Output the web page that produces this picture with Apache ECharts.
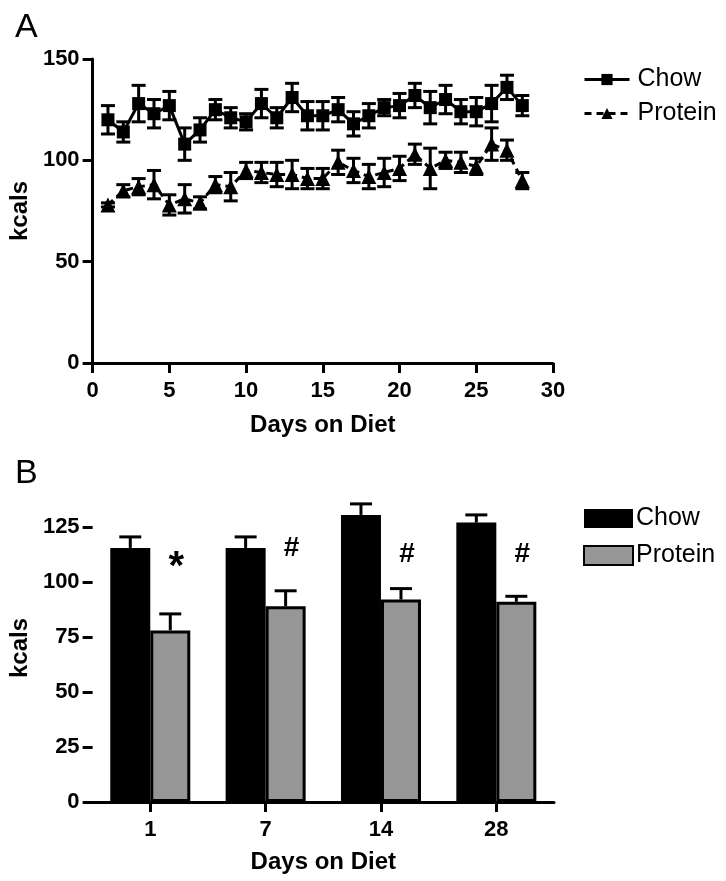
<!DOCTYPE html>
<html>
<head>
<meta charset="utf-8">
<script src="https://cdn.jsdelivr.net/npm/echarts@6/dist/echarts.min.js"></script>
<style>html,body{margin:0;padding:0;background:#fff}#c{width:726px;height:881px}</style>
</head>
<body>
<div id="c"></div>
<script>
// ---- Panel A data ----
const days = [1,2,3,4,5,6,7,8,9,10,11,12,13,14,15,16,17,18,19,20,21,22,23,24,25,26,27,28];
const chowMean = [120,114,128,123,127,108,115,125,121,119,128,121,131,122,122,125,118,122,126,127,132,126,130,124,124,128,136,127];
const chowErr  = [7,5,9,7,7,8,6,5,5,4,7,5,7,7,7,6,6,6,4,6,6,8,7,6,7,9,6,5];
const proteinMean = [78,85,87,88,78,81,79,88,87,95,94,93,93,91,91,99,95,92,94,96,103,96,100,99,97,108,105,90];
const proteinErr  = [1,3,4,7,5,7,3,4,7,4,5,6,7,5,5,6,6,6,7,6,5,10,4,5,4,8,5,4];
const xTicksA = [0,5,10,15,20,25,30];
const yTicksA = [0,50,100,150];

// ---- Panel B data ----
const barDays = ['1','7','14','28'];
const barChow = [115.5,115.5,130.5,127];
const barChowErr = [5,5,5,3.5];
const barProtein = [78,89,92,91];
const barProteinErr = [7.5,7,5,2.5];
const sigMarks = ['*','#','#','#'];
const sigLevel = [109,115.5,112.7,112.7];
const yTicksB = [0,25,50,75,100,125];

const FONT = 'Liberation Sans, Arial, Helvetica, sans-serif';
const chart = echarts.init(document.getElementById('c'), null, {renderer:'canvas'});

function errA(params, api){
  const x = api.value(0), lo = api.value(1), hi = api.value(2);
  const p1 = api.coord([x, hi]), p2 = api.coord([x, lo]);
  const w = 7;
  const st = {stroke:'#000', lineWidth:3};
  return {type:'group', children:[
    {type:'line', shape:{x1:p1[0],y1:p1[1],x2:p2[0],y2:p2[1]}, style:st},
    {type:'line', shape:{x1:p1[0]-w,y1:p1[1],x2:p1[0]+w,y2:p1[1]}, style:st},
    {type:'line', shape:{x1:p2[0]-w,y1:p2[1],x2:p2[0]+w,y2:p2[1]}, style:st}
  ]};
}
function errB(offset){
  return function(params, api){
    const i = api.value(0), base = api.value(1), top = api.value(2);
    const p1 = api.coord([i, top]), p2 = api.coord([i, base]);
    const x = p1[0] + offset, w = 11;
    const st = {stroke:'#000', lineWidth:3};
    return {type:'group', children:[
      {type:'line', shape:{x1:x,y1:p1[1],x2:x,y2:p2[1]}, style:st},
      {type:'line', shape:{x1:x-w,y1:p1[1],x2:x+w,y2:p1[1]}, style:st}
    ]};
  };
}
function sigText(params, api){
  const i = api.value(0), v = api.value(1);
  const p = api.coord([i, v]);
  const m = sigMarks[params.dataIndex];
  const big = m === '*';
  return {type:'text', x:p[0]+26, y:p[1] + (big ? 6 : 0),
    style:{text:m, font:'bold ' + (big ? 40 : 28) + 'px ' + FONT, fill:'#000', align:'center', verticalAlign:'middle'}};
}

const axisCommon = {
  axisLine:{lineStyle:{color:'#000', width:3}},
  axisTick:{show:true, inside:false, length:10, lineStyle:{color:'#000', width:3}},
  axisLabel:{color:'#000', fontFamily:FONT, fontWeight:'bold', fontSize:22},
  splitLine:{show:false},
  nameTextStyle:{color:'#000', fontFamily:FONT, fontWeight:'bold', fontSize:24}
};

const option = {
  animation:false,
  backgroundColor:'#fff',
  textStyle:{fontFamily:FONT},
  title:[
    {text:'A', left:10, top:6, textStyle:{fontFamily:FONT, fontWeight:'normal', fontSize:34, color:'#000'}},
    {text:'B', left:10, top:452, textStyle:{fontFamily:FONT, fontWeight:'normal', fontSize:34, color:'#000'}}
  ],
  legend:[
    {data:['Chow','Protein'], orient:'vertical', left:578, top:62, itemWidth:45, itemHeight:14, itemGap:9,
     lineStyle:{width:3}, 
     textStyle:{fontFamily:FONT, fontSize:25, color:'#000', lineHeight:25, padding:[0,0,0,3]}, selectedMode:false},
    {data:['Chow ','Protein '], orient:'vertical', left:578, top:501, itemWidth:49, itemHeight:19, itemGap:12, icon:'rect',
     textStyle:{fontFamily:FONT, fontSize:25, color:'#000', lineHeight:25, padding:[0,0,0,-2]}, selectedMode:false}
  ],
  grid:[
    {left:91, right:173, top:59, bottom:518, containLabel:false},
    {left:92, right:172, top:494, bottom:79, containLabel:false}
  ],
  xAxis:[
    Object.assign({}, axisCommon, {gridIndex:0, type:'value', min:xTicksA[0], max:xTicksA[xTicksA.length-1], interval:5,
      name:'Days on Diet', nameLocation:'middle', nameGap:50,
      axisLabel:Object.assign({}, axisCommon.axisLabel, {margin:17})}),
    Object.assign({}, axisCommon, {gridIndex:1, type:'category', data:barDays,
      axisTick:Object.assign({}, axisCommon.axisTick, {alignWithLabel:true}),
      name:'Days on Diet', nameLocation:'middle', nameGap:48,
      axisLabel:Object.assign({}, axisCommon.axisLabel, {margin:17})})
  ],
  yAxis:[
    Object.assign({}, axisCommon, {gridIndex:0, type:'value', min:yTicksA[0], max:yTicksA[yTicksA.length-1], interval:50,
      axisLabel:Object.assign({}, axisCommon.axisLabel, {margin:13}),
      name:'kcals', nameLocation:'middle', nameGap:58, nameRotate:90}),
    Object.assign({}, axisCommon, {gridIndex:1, type:'value', min:0, max:140,
      axisLabel:Object.assign({}, axisCommon.axisLabel, {customValues:yTicksB, margin:13}),
      axisTick:Object.assign({}, axisCommon.axisTick, {customValues:yTicksB}),
      name:'kcals', nameLocation:'middle', nameGap:58, nameRotate:90})
  ],
  series:[
    {type:'custom', name:'chowErr', xAxisIndex:0, yAxisIndex:0, renderItem:errA, z:3,
     data:days.map((d,i)=>[d, chowMean[i]-chowErr[i], chowMean[i]+chowErr[i]])},
    {type:'custom', name:'proteinErr', xAxisIndex:0, yAxisIndex:0, renderItem:errA, z:3,
     data:days.map((d,i)=>[d, proteinMean[i]-proteinErr[i], proteinMean[i]+proteinErr[i]])},
    {type:'line', name:'Chow', xAxisIndex:0, yAxisIndex:0, z:4,
     data:days.map((d,i)=>[d, chowMean[i]]),
     symbol:'rect', symbolSize:13, showAllSymbol:true,
     lineStyle:{color:'#000', width:3}, itemStyle:{color:'#000'}},
    {type:'line', name:'Protein', xAxisIndex:0, yAxisIndex:0, z:4,
     data:days.map((d,i)=>[d, proteinMean[i]]),
     symbol:'triangle', symbolSize:15, showAllSymbol:true,
     lineStyle:{color:'#000', width:3, type:[7,5]}, itemStyle:{color:'#000'}},
    {type:'bar', name:'Chow ', xAxisIndex:1, yAxisIndex:1, data:barChow, barWidth:40, barGap:'0%',
     itemStyle:{color:'#000', borderColor:'#000', borderWidth:0}},
    {type:'bar', name:'Protein ', xAxisIndex:1, yAxisIndex:1, data:barProtein, barWidth:40, barGap:'0%',
     itemStyle:{color:'#969696', borderColor:'#000', borderWidth:3}},
    {type:'custom', name:'barChowErr', xAxisIndex:1, yAxisIndex:1, renderItem:errB(-20), z:3,
     data:barDays.map((d,i)=>[i, barChow[i], barChow[i]+barChowErr[i]])},
    {type:'custom', name:'barProteinErr', xAxisIndex:1, yAxisIndex:1, renderItem:errB(20), z:3,
     data:barDays.map((d,i)=>[i, barProtein[i], barProtein[i]+barProteinErr[i]])},
    {type:'custom', name:'sig', xAxisIndex:1, yAxisIndex:1, renderItem:sigText, z:5,
     data:barDays.map((d,i)=>[i, sigLevel[i]])}
  ]
};
chart.setOption(option);
</script>
</body>
</html>
